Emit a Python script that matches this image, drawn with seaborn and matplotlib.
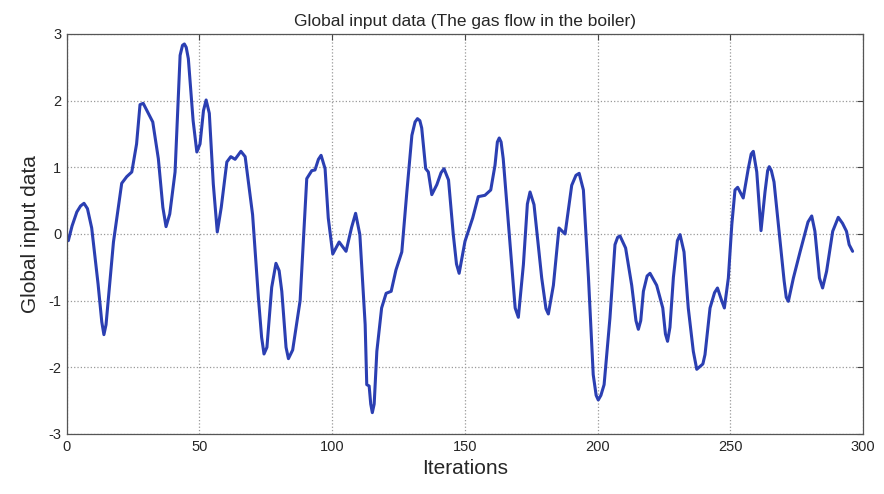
import numpy as np
import pandas as pd
import seaborn as sns
import matplotlib.pyplot as plt

# values (iteration, value)
iterations = [0.6, 2.0, 3.8, 5.2, 6.5, 7.8, 9.4, 11.8, 13.2, 14.0, 14.8, 17.6, 20.7, 22.6, 24.5,
              26.3, 27.6, 28.8, 30.1, 32.4, 34.5, 36.2, 37.4, 38.8, 40.8, 42.7, 43.6, 44.3,
              45.0, 45.8, 47.6, 49.0, 50.2, 51.5, 52.5, 53.7, 55.2, 56.7, 58.2, 60.3, 61.8,
              63.4, 65.6, 67.2, 70.0, 72.2, 73.4, 74.3, 75.4, 77.2, 78.8, 80.0, 81.0, 82.6,
              83.5, 85.1, 87.9, 90.4, 92.3, 93.5, 94.8, 95.8, 97.3, 98.5, 100.2, 102.6,
              105.2, 107.3, 108.8, 110.4, 112.4, 113.0, 113.9, 114.5, 115.1, 115.8, 116.8,
              118.6, 120.3, 122.2, 124.0, 126.2, 128.1, 130.0, 131.2, 132.1, 133.0, 133.7,
              135.2, 136.2, 137.5, 139.4, 141.0, 142.1, 143.8, 145.6, 146.8, 147.8, 150.0,
              152.9, 155.0, 157.5, 159.7, 161.3, 162.2, 162.9, 163.6, 164.4, 167.0, 168.9,
              170.1, 172.0, 173.5, 174.5, 176.0, 178.9, 180.5, 181.4, 183.3, 185.4, 187.7,
              190.2, 191.8, 193.0, 194.6, 196.5, 198.3, 199.4, 200.2, 201.2, 202.4, 204.6,
              206.5, 207.5, 208.4, 210.5, 212.8, 214.4, 215.3, 216.2, 217.2, 218.6, 219.7,
              222.2, 224.5, 225.5, 226.3, 227.2, 228.5, 230.0, 231.0, 232.5, 234.1, 236.0,
              237.3, 239.6, 240.4, 242.3, 244.0, 245.1, 246.6, 247.7, 249.2, 250.5, 251.7,
              252.7, 254.8, 256.7, 257.8, 258.6, 259.9, 261.5, 263.0, 264.0, 264.6, 265.4,
              266.4, 268.7, 270.2, 271.0, 271.8, 273.7, 276.2, 279.2, 280.6, 281.8, 283.5,
              284.7, 286.2, 288.5, 290.6, 292.2, 293.7, 294.7, 296.0]
values = [-0.10, 0.12, 0.33, 0.42, 0.46, 0.38, 0.09, -0.75, -1.32, -1.51, -1.36, -0.12, 0.76,
          0.86, 0.93, 1.35, 1.94, 1.96, 1.86, 1.68, 1.13, 0.40, 0.11, 0.30, 0.93, 2.68,
          2.83, 2.85, 2.80, 2.63, 1.70, 1.23, 1.35, 1.85, 2.01, 1.81, 0.75, 0.03, 0.40,
          1.08, 1.16, 1.12, 1.24, 1.16, 0.29, -0.96, -1.55, -1.80, -1.70, -0.80, -0.44,
          -0.55, -0.86, -1.70, -1.87, -1.74, -1.00, 0.83, 0.95, 0.96, 1.12, 1.18, 0.98,
          0.24, -0.30, -0.12, -0.26, 0.10, 0.31, -0.01, -1.36, -2.26, -2.28, -2.55, -2.68,
          -2.55, -1.76, -1.11, -0.89, -0.86, -0.54, -0.27, 0.63, 1.48, 1.68, 1.73, 1.70,
          1.59, 0.98, 0.93, 0.59, 0.74, 0.92, 0.98, 0.81, -0.01, -0.45, -0.59, -0.11, 0.24,
          0.56, 0.58, 0.66, 1.03, 1.38, 1.44, 1.38, 1.13, -0.16, -1.11, -1.25, -0.46, 0.45,
          0.63, 0.44, -0.66, -1.12, -1.20, -0.77, 0.09, 0.00, 0.73, 0.88, 0.91, 0.66,
          -0.65, -2.11, -2.42, -2.49, -2.42, -2.26, -1.26, -0.16, -0.05, -0.03, -0.21,
          -0.77, -1.30, -1.43, -1.30, -0.86, -0.63, -0.59, -0.77, -1.11, -1.50, -1.61,
          -1.40, -0.65, -0.10, -0.01, -0.27, -1.11, -1.76, -2.03, -1.95, -1.81, -1.11,
          -0.88, -0.81, -0.99, -1.11, -0.66, 0.14, 0.66, 0.70, 0.54, 0.98, 1.20, 1.24,
          0.93, 0.05, 0.63, 0.95, 1.01, 0.95, 0.78, -0.12, -0.70, -0.95, -1.01, -0.66,
          -0.27, 0.18, 0.27, 0.04, -0.66, -0.81, -0.56, 0.04, 0.25, 0.16, 0.04, -0.16,
          -0.26]

x_ticks = [0, 50, 100, 150, 200, 250, 300]
y_ticks = [-3, -2, -1, 0, 1, 2, 3]

df = pd.DataFrame({'Iterations': iterations, 'Global input data': values})

sns.set_style('white')
plt.rcParams['font.family'] = ['Liberation Sans', 'DejaVu Sans']
plt.rcParams['axes.unicode_minus'] = False

fig = plt.figure(figsize=(8.84, 4.94), dpi=100)
ax = fig.add_axes([0.0755, 0.1215, 0.901, 0.8097])

sns.lineplot(data=df, x='Iterations', y='Global input data', sort=False,
             color='#2b3fb2', linewidth=2.2, ax=ax,
             solid_joinstyle='round', solid_capstyle='round')

ax.set_xlim(0, 300)
ax.set_ylim(-3, 3)
ax.set_xticks(x_ticks)
ax.set_yticks(y_ticks)
ax.tick_params(direction='in', top=True, right=True, length=4, labelsize=10.5,
               color='#444444', pad=4)
ax.grid(True, linestyle=':', color='#999999', linewidth=0.9)
for s in ax.spines.values():
    s.set_color('#555555')
    s.set_linewidth(0.9)

ax.set_title('Global input data (The gas flow in the boiler)', fontsize=12.5, pad=6)
ax.set_xlabel('Iterations', fontsize=15, labelpad=4)
ax.set_ylabel('Global input data', fontsize=15, labelpad=6)

fig.savefig('out.png', dpi=100)
